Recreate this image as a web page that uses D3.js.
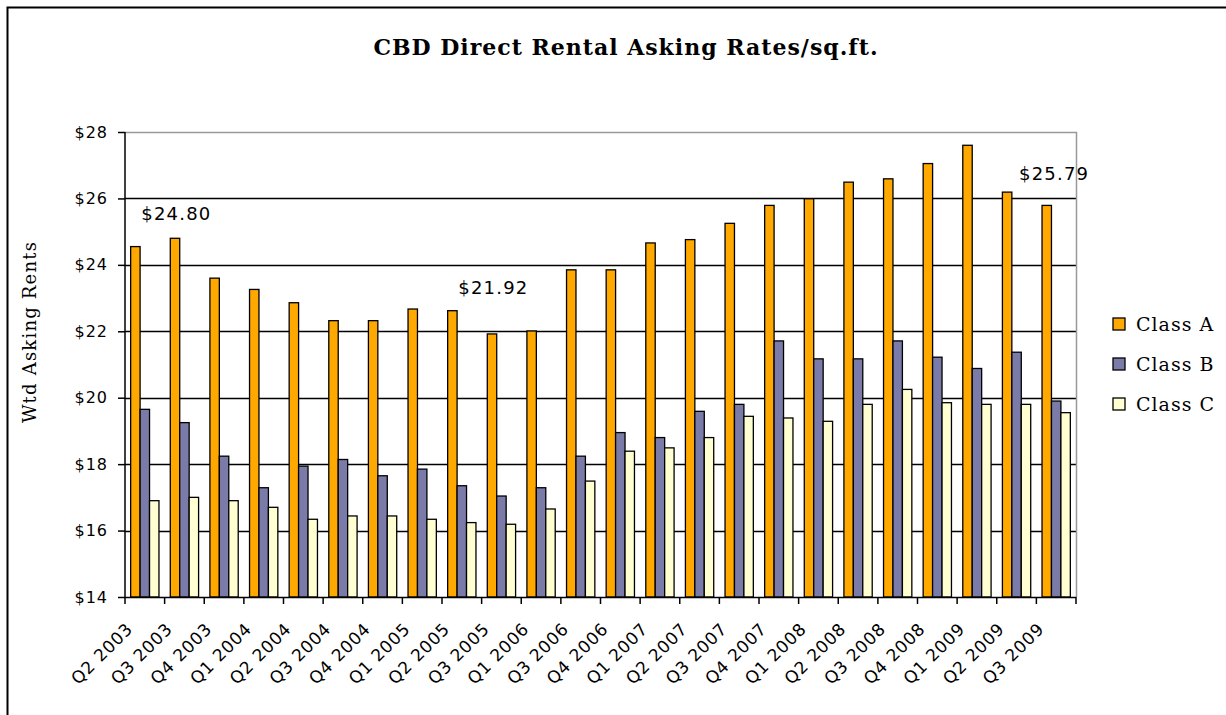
<!DOCTYPE html>
<html>
<head>
<meta charset="utf-8">
<script src="https://cdn.jsdelivr.net/npm/d3@7"></script>
<style>
  body { margin: 0; background: #fff; }
  svg { display: block; }
</style>
</head>
<body>
<div id="chart-area"></div>
<script>
// chart data
var quarters = ["Q2 2003", "Q3 2003", "Q4 2003", "Q1 2004", "Q2 2004", "Q3 2004",
    "Q4 2004", "Q1 2005", "Q2 2005", "Q3 2005", "Q1 2006", "Q3 2006", "Q4 2006",
    "Q1 2007", "Q2 2007", "Q3 2007", "Q4 2007", "Q1 2008", "Q2 2008", "Q3 2008",
    "Q4 2008", "Q1 2009", "Q2 2009", "Q3 2009"];

var classA = [24.55, 24.80, 23.60, 23.26, 22.86, 22.32, 22.32, 22.67, 22.62, 21.92,
    22.01, 23.85, 23.85, 24.66, 24.76, 25.25, 25.79, 25.99, 26.49, 26.59,
    27.05, 27.60, 26.19, 25.79];
var classB = [19.65, 19.25, 18.24, 17.29, 17.94, 18.14, 17.65, 17.85, 17.35, 17.04,
    17.29, 18.24, 18.95, 18.80, 19.59, 19.80, 21.71, 21.17, 21.17, 21.71,
    21.22, 20.88, 21.37, 19.90];
var classC = [16.90, 17.00, 16.90, 16.70, 16.34, 16.44, 16.44, 16.34, 16.24, 16.19,
    16.65, 17.49, 18.39, 18.49, 18.80, 19.44, 19.39, 19.29, 19.80, 20.25,
    19.85, 19.80, 19.80, 19.55];

var seriesNames = ["Class A", "Class B", "Class C"];
var seriesColors = ["#FFA800", "#7B7BA9", "#FFFFD2"];
var yTicks = [14, 16, 18, 20, 22, 24, 26, 28];

// labelled points: [series index, quarter index, text]
var callouts = [[0, 1, "$24.80"], [0, 9, "$21.92"], [0, 23, "$25.79"]];
// where each label was dragged to, relative to its bar top (px)
var calloutShift = [[-29, -18], [-29, -40], [-23, -25]];

var W = 1226, H = 715;
var plot = { left: 125, right: 1076, top: 132, bottom: 597 };

var svg = d3.select("#chart-area")
    .append("svg")
        .attr("width", W)
        .attr("height", H);

// outer frame
svg.append("rect")
    .attr("x", 7.5).attr("y", 7.5)
    .attr("width", W + 20).attr("height", H + 20)
    .attr("fill", "none")
    .attr("stroke", "#000")
    .attr("stroke-width", 2);

// Title
svg.append("text")
    .attr("x", 626)
    .attr("y", 55)
    .attr("text-anchor", "middle")
    .attr("font-family", "DejaVu Serif")
    .attr("font-weight", "bold")
    .attr("font-size", "22px")
    .attr("letter-spacing", "1px")
    .text("CBD Direct Rental Asking Rates/sq.ft.");

// Scales
var x0 = d3.scaleBand()
    .domain(quarters)
    .range([plot.left, plot.right])
    .padding(0);

var x1 = d3.scaleBand()
    .domain(seriesNames)
    .range([0, x0.bandwidth()])
    .paddingInner(0)
    .paddingOuter(0.6);

var y = d3.scaleLinear()
    .domain([14, 28])
    .range([plot.bottom, plot.top]);

// Gridlines
svg.append("g")
    .selectAll("line")
    .data(yTicks.filter(function(d){ return d > 14 && d < 28; }))
    .enter().append("line")
        .attr("x1", plot.left).attr("x2", plot.right)
        .attr("y1", function(d){ return Math.round(y(d)) + 0.5; })
        .attr("y2", function(d){ return Math.round(y(d)) + 0.5; })
        .attr("stroke", "#000")
        .attr("stroke-width", 1.5);

// plot border top / right (gray)
svg.append("path")
    .attr("d", "M" + plot.left + "," + (y(28) + 0.5) + "H" + (plot.right + 0.5) + "V" + plot.bottom)
    .attr("fill", "none")
    .attr("stroke", "#999")
    .attr("stroke-width", 1.5);

// Bars
var values = [classA, classB, classC];
var rows = quarters.map(function(q, i) {
    return seriesNames.map(function(s, k) {
        return { q: q, s: s, k: k, v: values[k][i] };
    });
});

var groups = svg.append("g")
    .selectAll("g")
    .data(rows)
    .enter().append("g")
        .attr("transform", function(d){ return "translate(" + x0(d[0].q) + ",0)"; });

groups.selectAll("rect")
    .data(function(d){ return d; })
    .enter().append("rect")
        .attr("x", function(d){ return x1(d.s); })
        .attr("y", function(d){ return y(d.v); })
        .attr("width", x1.bandwidth())
        .attr("height", function(d){ return y(14) - y(d.v); })
        .attr("fill", function(d){ return seriesColors[d.k]; })
        .attr("stroke", "#000")
        .attr("stroke-width", 1.3);

// Y Axis
var yAxisCall = d3.axisLeft(y)
    .tickValues(yTicks)
    .tickSize(7)
    .tickPadding(10)
    .tickFormat(function(d){ return "$" + d; });
var yAxis = svg.append("g")
    .attr("class", "y axis")
    .attr("transform", "translate(" + plot.left + ",0)")
    .call(yAxisCall);
yAxis.select(".domain").attr("stroke-width", 1.5).attr("d", "M0," + plot.top + "V" + plot.bottom);
yAxis.selectAll(".tick line").attr("stroke-width", 1.5);
yAxis.selectAll("text")
    .attr("font-family", "DejaVu Sans")
    .attr("font-size", "16px")
    .attr("letter-spacing", "1px")
    .attr("fill", "#000");

// X Axis: line, ticks at category boundaries, rotated labels
var xAxis = svg.append("g").attr("class", "x axis");
xAxis.append("line")
    .attr("x1", plot.left).attr("x2", plot.right)
    .attr("y1", plot.bottom + 0.5).attr("y2", plot.bottom + 0.5)
    .attr("stroke", "#000")
    .attr("stroke-width", 1.5);
xAxis.selectAll(".xtick")
    .data(quarters.concat(["end"]))
    .enter().append("line")
        .attr("class", "xtick")
        .attr("x1", function(d){ return d === "end" ? x0.range()[1] : x0(d); })
        .attr("x2", function(d){ return d === "end" ? x0.range()[1] : x0(d); })
        .attr("y1", plot.bottom)
        .attr("y2", plot.bottom + 7)
        .attr("stroke", "#000")
        .attr("stroke-width", 1.5);
xAxis.selectAll(".xlabel")
    .data(quarters)
    .enter().append("text")
        .attr("class", "xlabel")
        .attr("text-anchor", "end")
        .attr("font-family", "DejaVu Sans")
        .attr("font-size", "17px")
        .attr("letter-spacing", "0.8px")
        .attr("transform", function(d){
            var cx = x0(d) + x0.bandwidth() / 2 - 11;
            return "translate(" + cx + "," + (plot.bottom + 33) + ") rotate(-45)";
        })
        .text(function(d){ return d; });

// Y Label
svg.append("text")
    .attr("x", -332)
    .attr("y", 36)
    .attr("transform", "rotate(-90)")
    .attr("text-anchor", "middle")
    .attr("font-family", "DejaVu Serif")
    .attr("font-size", "18px")
    .attr("letter-spacing", "1.2px")
    .text("Wtd Asking Rents");

// Callouts
svg.append("g")
    .selectAll("text")
    .data(callouts)
    .enter().append("text")
        .attr("x", function(d, i){ return x0(quarters[d[1]]) + x1(seriesNames[d[0]]) + calloutShift[i][0]; })
        .attr("y", function(d, i){ return y(values[d[0]][d[1]]) + calloutShift[i][1]; })
        .attr("font-family", "DejaVu Sans")
        .attr("font-size", "18px")
        .attr("letter-spacing", "1.2px")
        .text(function(d){ return d[2]; });

// Legend
var legend = svg.append("g")
    .selectAll("g")
    .data(seriesNames)
    .enter().append("g")
        .attr("transform", function(d, i){ return "translate(1113," + (324 + i * 40) + ")"; });
legend.append("rect")
    .attr("x", 0).attr("y", -6)
    .attr("width", 12).attr("height", 12)
    .attr("fill", function(d, i){ return seriesColors[i]; })
    .attr("stroke", "#000")
    .attr("stroke-width", 1.3);
legend.append("text")
    .attr("x", 23)
    .attr("y", 7)
    .attr("font-family", "DejaVu Serif")
    .attr("font-size", "19px")
    .attr("letter-spacing", "1px")
    .text(function(d){ return d; });
</script>
</body>
</html>
